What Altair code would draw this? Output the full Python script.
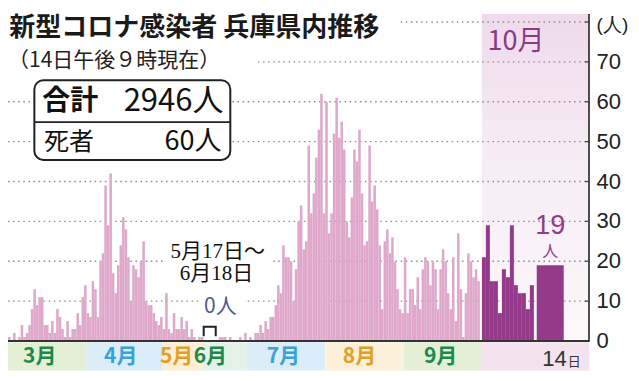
import datetime as dt
import altair as alt
import pandas as pd

# ---------------- data ----------------
mar = [1, 0, 2, 0, 1, 4, 1, 2, 4, 8, 13, 9, 11, 11, 4, 4, 2, 5, 2, 8, 6, 3, 1, 5, 1, 3, 3, 7, 4, 11, 14]
apr = [7, 6, 15, 13, 6, 20, 22, 39, 29, 42, 17, 12, 19, 24, 31, 28, 21, 10, 19, 18,
       16, 20, 25, 10, 9, 9, 7, 5, 4, 6]
may = [3, 12, 3, 2, 7, 3, 3, 6, 3, 5, 1, 3, 1, 0, 1, 1]          # 5/1 - 5/16
jun = [0, 1, 1, 1, 0, 1, 0, 0, 0, 1, 0, 2]                      # 6/19 - 6/30
jul = [0, 1, 0, 2, 2, 4, 2, 5, 3, 6, 6, 9, 14, 12, 24, 21, 21, 20, 10, 18,
       30, 34, 23, 25, 49, 32, 37, 46, 53, 62, 32]
aug = [60, 27, 32, 52, 61, 51, 55, 48, 30, 26, 36, 48, 45, 53, 37, 24, 25, 49, 35, 39,
       33, 24, 8, 25, 28, 22, 26, 20, 13, 8, 7]
sep = [21, 7, 13, 13, 9, 16, 8, 18, 21, 20, 14, 20, 18, 8, 18, 23, 20, 12, 8, 21,
       5, 27, 13, 1, 12, 22, 20, 16, 18, 15]
octo = [21, 29, 15, 15, 7, 18, 16, 29, 14, 12, 12, 8, 14, 19]   # 10/1 - 10/14

segment_starts = ["2020-03-01", "2020-04-01", "2020-05-01", "2020-06-19",
                  "2020-07-01", "2020-08-01", "2020-09-01", "2020-10-01"]
segments = [mar, apr, may, jun, jul, aug, sep, octo]

month_names = ["3月", "4月", "5月", "6月", "7月", "8月", "9月"]
month_edges = ["2020-03-01", "2020-04-01", "2020-05-01", "2020-05-17",
               "2020-07-01", "2020-08-01", "2020-09-01", "2020-10-01"]
month_label_days = ["2020-03-13", "2020-04-14", "2020-05-06", "2020-06-01",
                    "2020-07-15", "2020-08-14", "2020-09-15"]
y_ticks = [0, 10, 20, 30, 40, 50, 60, 70, 80]
y_labels = ["0", "10", "20", "30", "40", "50", "60", "70"]

# ---------------- styles / layout ----------------
band_fill = ["#e3f0d6", "#dbedf8", "#fcefd5", "#e4f2e8", "#dbedf8", "#fcf0da", "#e3f0d6"]
label_color = ["#1a8a4c", "#39a2d6", "#e0a025", "#1a8a4c", "#39a2d6", "#e0a025", "#1a8a4c"]
PINK = "#dfa8cb"
PURPLE = "#95398b"
JP = "Noto Sans CJK JP"
NARROW = "Liberation Sans Narrow, Liberation Sans"

GAP_W = 5.15      # compressed zero-case span (5/17 - 6/18)
OCT_LEAD = 0.8
OCT_W = 1.577
LAST_LEAD = 1.13
LAST_W = 10.65
X_END = 229.2

BASE = dt.date(2020, 3, 1)
Z0 = dt.date(2020, 5, 17)
Z1 = dt.date(2020, 6, 19)
OCT1 = dt.date(2020, 10, 1)
LAST = dt.date(2020, 10, 14)


def d_(s):
    return dt.date.fromisoformat(s)


def start(d):
    z0 = (Z0 - BASE).days
    if d < Z0:
        return (d - BASE).days
    if d < Z1:
        return z0 + GAP_W * (d - Z0).days / (Z1 - Z0).days
    if d < OCT1:
        return z0 + GAP_W + (d - Z1).days
    s = z0 + GAP_W + (OCT1 - Z1).days + OCT_LEAD
    k = (d - OCT1).days
    return s + k * OCT_W + (LAST_LEAD if d >= LAST else 0)


def width(d):
    if d < OCT1:
        return 1.0
    return LAST_W if d >= LAST else OCT_W


rows = []
for s, vals in zip(segment_starts, segments):
    for i, v in enumerate(vals):
        d = d_(s) + dt.timedelta(days=i)
        x0 = start(d)
        rows.append(dict(date=d.isoformat(), n=v, x0=x0, x1=x0 + width(d), base=0,
                         fill=PURPLE if d.month == 10 else PINK))
bars_df = pd.DataFrame(rows)
oct_start = start(OCT1)
last_center = start(LAST) + LAST_W / 2

XS = alt.Scale(domain=[0, X_END], nice=False, zero=False)
YS = alt.Scale(domain=[0, 80], nice=False, zero=False)


def X(f):
    return alt.X(f, type="quantitative", scale=XS, axis=None)


def Y(f):
    return alt.Y(f, type="quantitative", scale=YS, axis=None)


# month bands along the bottom
mb = pd.DataFrame({
    "name": month_names,
    "x0": [start(d_(e)) for e in month_edges[:-1]],
    "x1": [start(d_(e)) for e in month_edges[1:]],
    "lx": [start(d_(e)) + 0.5 for e in month_label_days],
    "fill": band_fill, "col": label_color, "y0": -0.3, "y1": -7.4, "ly": -4.06,
})
bands = alt.Chart(mb).mark_rect().encode(
    x=X("x0"), x2="x1", y=Y("y0"), y2="y1", color=alt.Color("fill:N", scale=None))
band_labels = alt.Chart(mb).mark_text(font=JP, fontSize=21, fontWeight="bold", baseline="middle").encode(
    x=X("lx"), y=Y("ly"), text="name:N", color=alt.Color("col:N", scale=None))

oct_bottom = alt.Chart(pd.DataFrame({"x0": [oct_start], "x1": [X_END], "y0": [-0.3], "y1": [-7.4]})).mark_rect(
    color="#f4e3ef").encode(x=X("x0"), x2="x1", y=Y("y0"), y2="y1")

grad = alt.LinearGradient(gradient="linear", x1=0, x2=0, y1=0, y2=1, stops=[
    alt.GradientStop(color="#eedaec", offset=0),
    alt.GradientStop(color="#f6ebf4", offset=0.4),
    alt.GradientStop(color="#fcf8fb", offset=1)])
oct_band = alt.Chart(pd.DataFrame({"x0": [oct_start], "x1": [X_END], "y0": [0], "y1": [82]})).mark_rect(
    color=grad).encode(x=X("x0"), x2="x1", y=Y("y0"), y2="y1")

grid = alt.Chart(pd.DataFrame({"v": y_ticks[1:], "x0": 0, "x1": X_END})).mark_rule(
    color="#8c8c8c", strokeWidth=1.3, strokeDash=[1.5, 3.6]).encode(x=X("x0"), x2="x1", y=Y("v"))

masks = alt.Chart(pd.DataFrame({
    "x0": [0, 0, 61.5, 65.4, 75.4],
    "x1": [153.8, 98.5, 104.6, 99.2, 93.1],
    "y0": [75.0, 67.6, 19.3, 13.9, 5.5],
    "y1": [83.5, 74.7, 25.3, 19.3, 11.5],
})).mark_rect(color="white").encode(x=X("x0"), x2="x1", y=Y("y0"), y2="y1")

bars = alt.Chart(bars_df).mark_rect().encode(
    x=X("x0"), x2="x1", y=Y("n"), y2="base",
    color=alt.Color("fill:N", scale=None),
)

baseline = alt.Chart(pd.DataFrame({"x0": [0], "x1": [X_END], "v": [0]})).mark_rule(
    color="#333", strokeWidth=2).encode(x=X("x0"), x2="x1", y=Y("v"))
axis_line = alt.Chart(pd.DataFrame({"x": [X_END], "y0": [-0.2], "y1": [82]})).mark_rule(
    color="#222", strokeWidth=1.6).encode(x=X("x"), y=Y("y0"), y2="y1")
ticks = alt.Chart(pd.DataFrame({"v": y_ticks[1:], "x0": X_END - 1.6, "x1": X_END})).mark_rule(
    color="#444", strokeWidth=1.3).encode(x=X("x0"), x2="x1", y=Y("v"))
axis_labels = alt.Chart(pd.DataFrame({"v": y_ticks[:-1], "t": y_labels, "x": X_END + 3.0})).mark_text(
    font=NARROW, fontSize=22, align="left", baseline="middle", color="#222").encode(
    x=X("x"), y=Y("v"), text="t:N")

box = alt.Chart(pd.DataFrame({"x0": [10.4], "x1": [87.7], "y0": [45.4], "y1": [65.4]})).mark_rect(
    fill="white", stroke="#222", strokeWidth=2, cornerRadius=9).encode(x=X("x0"), x2="x1", y=Y("y0"), y2="y1")
divider = alt.Chart(pd.DataFrame({"x0": [10.4], "x1": [87.7], "v": [54.9]})).mark_rule(
    color="#222", strokeWidth=1.6).encode(x=X("x0"), x2="x1", y=Y("v"))

zx0 = start(Z0) + 0.2
zx1 = start(Z1) - 0.2
bracket = alt.Chart(pd.DataFrame({"x": [zx0, zx0, zx1, zx1], "y": [1.2, 3.6, 3.6, 1.2], "o": [0, 1, 2, 3]})).mark_line(
    color="#222", strokeWidth=2).encode(x=X("x"), y=Y("y"), order="o:Q")


def text(t, x, y, **kw):
    kw.setdefault("baseline", "middle")
    return alt.Chart(pd.DataFrame({"x": [x], "y": [y], "t": [t]})).mark_text(**kw).encode(
        x=X("x"), y=Y("y"), text="t:N")


texts = [
    text("新型コロナ感染者 兵庫県内推移", 0.5, 78.4, font=JP, fontSize=26, fontWeight="bold", align="left", color="#1a1a1a"),
    text("（14日午後９時現在）", 0, 70.3, font=JP, fontSize=21, align="left", color="#222"),
    text("合計", 13.5, 59.9, font=JP, fontSize=28, fontWeight="bold", align="left", color="#111"),
    text("2946人", 85.0, 59.9, font=JP, fontSize=31, align="right", color="#111"),
    text("死者", 14.2, 50.0, font=JP, fontSize=25, align="left", color="#111"),
    text("60人", 84.2, 50.0, font=JP, fontSize=27, align="right", color="#111"),
    text("5月17日～", 82.7, 22.4, font="Liberation Serif, Noto Sans CJK JP", fontSize=21, align="center", color="#111"),
    text("6月18日", 82.3, 16.7, font="Liberation Serif, Noto Sans CJK JP", fontSize=21, align="center", color="#111"),
    text("0人", 83.8, 8.6, font=JP, fontSize=21, align="center", color="#4a5b8f"),
    text("10月", 200.4, 75.0, font="Liberation Sans Narrow, Noto Sans CJK JP", fontSize=27, align="center", color="#8b3a84"),
    text("19", last_center, 28.9, font=NARROW, fontSize=27, align="center", color=PURPLE),
    text("人", last_center, 22.3, font=JP, fontSize=16, align="center", color=PURPLE),
    text("14", 220.4, -6.2, font=NARROW, fontSize=22, align="right", baseline="alphabetic", color="#333"),
    text("日", 220.8, -6.2, font=JP, fontSize=13, align="left", baseline="alphabetic", color="#333"),
    text("(人)", X_END + 3.0, 79.3, font=NARROW, fontSize=19, align="left", color="#222"),
]

chart = alt.layer(
    bands, oct_bottom, oct_band, grid, masks, bars, baseline, axis_line, ticks, axis_labels,
    box, divider, bracket, band_labels, *texts
).properties(
    width=581, height=319,
    padding={"left": 0, "top": 14, "right": 42, "bottom": 32},
    autosize=alt.AutoSizeParams(type="none"),
).configure_view(stroke=None)

chart.save("out.html", embed_options={"renderer": "svg", "actions": False})
